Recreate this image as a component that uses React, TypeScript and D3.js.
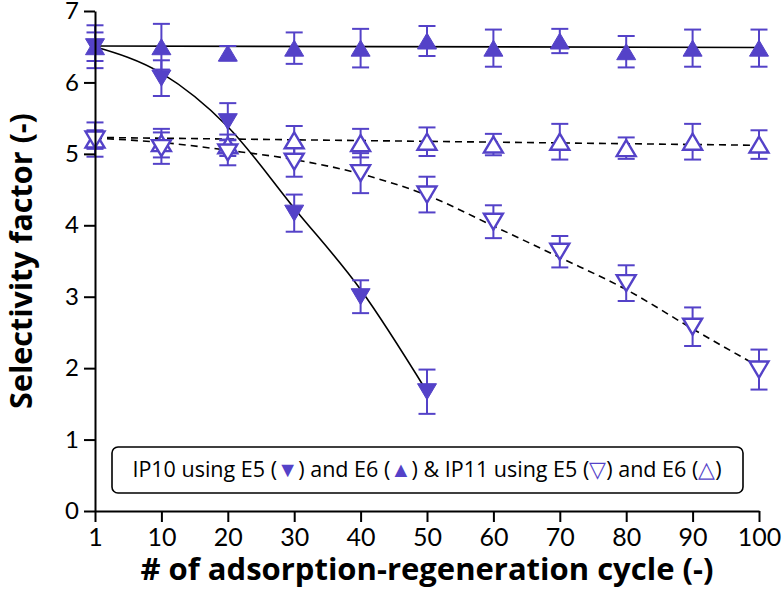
import React, { useEffect, useRef } from "react";
import * as d3 from "d3";

const categories = ["1", "10", "20", "30", "40", "50", "60", "70", "80", "90", "100"];
const yTicks = [0, 1, 2, 3, 4, 5, 6, 7];

// IP10 using E6 (filled up triangle)
const ip10E6 = [6.5, 6.5, 6.41, 6.48, 6.48, 6.58, 6.48, 6.58, 6.43, 6.48, 6.48];
const ip10E6Err = [0.3, 0.32, 0.1, 0.22, 0.27, 0.21, 0.26, 0.17, 0.22, 0.26, 0.26];
// IP10 using E5 (filled down triangle)
const ip10E5 = [6.5, 6.06, 5.45, 4.17, 3.0, 1.67];
const ip10E5Err = [0.2, 0.25, 0.26, 0.26, 0.23, 0.31];
// IP11 using E6 (open up triangle)
const ip11E6 = [5.2, 5.15, 5.12, 5.19, 5.15, 5.17, 5.13, 5.17, 5.08, 5.17, 5.13];
const ip11E6Err = [0.24, 0.2, 0.15, 0.2, 0.2, 0.2, 0.15, 0.25, 0.15, 0.25, 0.2];
// IP11 using E5 (open down triangle)
const ip11E5 = [5.2, 5.08, 5.02, 4.89, 4.73, 4.43, 4.05, 3.63, 3.19, 2.58, 1.98];
const ip11E5Err = [0.13, 0.22, 0.18, 0.21, 0.28, 0.25, 0.23, 0.22, 0.25, 0.27, 0.28];

// fitted curves
const fitIp10E6Cats = ["1", "100"];
const fitIp10E6 = [6.51, 6.49];
const fitIp10E5 = [6.5, 6.13, 5.38, 4.24, 3.1, 1.67];
const fitIp11E6Cats = ["1", "100"];
const fitIp11E6 = [5.23, 5.12];
const fitIp11E5 = [5.22, 5.16, 5.05, 4.92, 4.72, 4.42, 3.99, 3.55, 3.1, 2.55, 2.02];

const PURPLE = "#5442C8";
const TICK_FONT = "Lato, 'Open Sans', sans-serif";
const FONT = "'Open Sans', Lato, sans-serif";

const W = 783;
const H = 590;

export default function App() {
  const xAxisRef = useRef<SVGGElement>(null);
  const yAxisRef = useRef<SVGGElement>(null);

  const x = d3.scalePoint<string>().domain(categories).range([95, 759]);
  const y = d3.scaleLinear().domain([0, 7]).range([511, 11]);

  useEffect(() => {
    const xa = d3.axisBottom(x).tickSize(11).tickSizeOuter(0).tickPadding(6);
    const ya = d3.axisLeft(y).tickValues(yTicks).tickSize(11).tickSizeOuter(0).tickPadding(5).tickFormat(d3.format("d"));
    const gx = d3.select(xAxisRef.current!);
    gx.call(xa as any);
    const gy = d3.select(yAxisRef.current!);
    gy.call(ya as any);
    [gx, gy].forEach((g) => {
      g.selectAll("path.domain").attr("stroke", "#000").attr("stroke-width", 2);
      g.selectAll(".tick line").attr("stroke", "#000").attr("stroke-width", 2);
      g.selectAll(".tick text")
        .attr("fill", "#000")
        .style("font-family", TICK_FONT)
        .style("font-size", "25px");
    });
    gy.selectAll(".tick text").style("font-size", "24px");
  }, []);

  const triW = 19;
  const triH = 16;
  const triUp = (cx: number, cy: number) =>
    `M${cx - triW / 2},${cy + triH / 2}L${cx + triW / 2},${cy + triH / 2}L${cx},${cy - triH / 2}Z`;
  const triDown = (cx: number, cy: number) =>
    `M${cx - triW / 2},${cy - triH / 2}L${cx + triW / 2},${cy - triH / 2}L${cx},${cy + triH / 2}Z`;

  const errBars = (vals: number[], errs: number[], key: string) =>
    vals.map((v, i) => {
      const cx = x(categories[i])!;
      const y1 = y(v + errs[i]);
      const y2 = y(v - errs[i]);
      return (
        <g key={key + i} stroke={PURPLE} strokeWidth={2} fill="none">
          <line x1={cx} x2={cx} y1={y1} y2={y2} />
          <line x1={cx - 8.5} x2={cx + 8.5} y1={y1} y2={y1} />
          <line x1={cx - 8.5} x2={cx + 8.5} y1={y2} y2={y2} />
        </g>
      );
    });

  const line = d3
    .line<[string, number]>()
    .x((d) => x(d[0])!)
    .y((d) => y(d[1]));
  const curve = d3
    .line<[string, number]>()
    .x((d) => x(d[0])!)
    .y((d) => y(d[1]))
    .curve(d3.curveMonotoneX);

  const zip = (cats: string[], vals: number[]) => vals.map((v, i) => [cats[i], v] as [string, number]);

  return (
    <svg width={W} height={H} style={{ position: "absolute", left: 0, top: 0, background: "#fff" }}>
      <rect x={0} y={0} width={W} height={H} fill="#fff" />

      {/* fitted lines */}
      <path d={line(zip(fitIp10E6Cats, fitIp10E6))!} fill="none" stroke="#000" strokeWidth={1.6} />
      <path d={curve(zip(categories, fitIp10E5))!} fill="none" stroke="#000" strokeWidth={1.6} />
      <path d={line(zip(fitIp11E6Cats, fitIp11E6))!} fill="none" stroke="#000" strokeWidth={1.6} strokeDasharray="7,5" />
      <path d={curve(zip(categories, fitIp11E5))!} fill="none" stroke="#000" strokeWidth={1.6} strokeDasharray="7,5" />

      {/* error bars */}
      {errBars(ip11E6, ip11E6Err, "a")}
      {errBars(ip11E5, ip11E5Err, "b")}
      {errBars(ip10E6, ip10E6Err, "c")}
      {errBars(ip10E5, ip10E5Err, "d")}

      {/* markers */}
      {ip11E6.map((v, i) => (
        <path key={"m1" + i} d={triUp(x(categories[i])!, y(v))} fill="#fff" stroke={PURPLE} strokeWidth={2.4} />
      ))}
      {ip11E5.map((v, i) => (
        <path key={"m2" + i} d={triDown(x(categories[i])!, y(v))} fill="#fff" stroke={PURPLE} strokeWidth={2.4} />
      ))}
      {ip10E6.map((v, i) => (
        <path key={"m3" + i} d={triUp(x(categories[i])!, y(v))} fill={PURPLE} stroke={PURPLE} strokeWidth={1} />
      ))}
      {ip10E5.map((v, i) => (
        <path key={"m4" + i} d={triDown(x(categories[i])!, y(v))} fill={PURPLE} stroke={PURPLE} strokeWidth={1} />
      ))}

      {/* axes */}
      <g ref={xAxisRef} transform={`translate(0,${y(0)})`} />
      <g ref={yAxisRef} transform={`translate(${x("1")},0)`} />

      {/* legend */}
      <rect x={112} y={447} width={631} height={46} rx={6} ry={6} fill="#fff" stroke="#000" strokeWidth={1.6} />
      <text x={427} y={477} textAnchor="middle" fontFamily={FONT} fontSize={21.5} fill="#000">
        {"IP10 using E5 ("}<tspan fill={PURPLE}>▼</tspan>{") and E6 ("}<tspan fill={PURPLE}>▲</tspan>
        {") & IP11 using E5 ("}<tspan fill={PURPLE}>▽</tspan>{") and E6 ("}<tspan fill={PURPLE}>△</tspan>{")"}
      </text>

      {/* axis titles */}
      <text x={427} y={580} textAnchor="middle" fontFamily={FONT} fontWeight="bold" fontSize={31} fill="#000">
        # of adsorption-regeneration cycle (-)
      </text>
      <text
        transform={`translate(32,${261}) rotate(-90)`}
        textAnchor="middle"
        fontFamily={FONT}
        fontWeight="bold"
        fontSize={30.5}
        fill="#000"
      >
        Selectivity factor (-)
      </text>
    </svg>
  );
}
